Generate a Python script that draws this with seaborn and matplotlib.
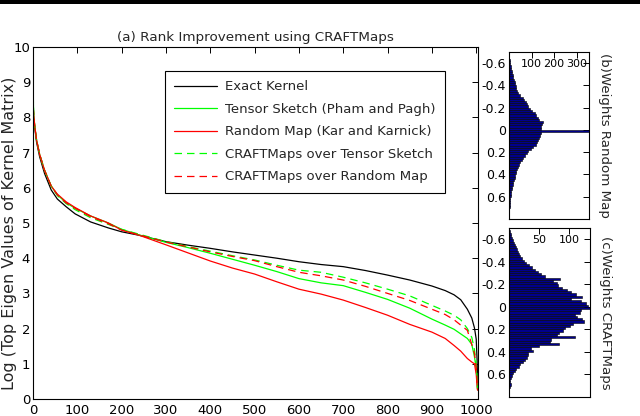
"""
plot.py
Rank improvement using CRAFTMaps: eigen spectrum curves plus two weight histograms.
Run: python plot.py
"""
import numpy as np
import pandas as pd
import matplotlib
matplotlib.use('Agg')
import matplotlib.pyplot as plt
from matplotlib.patches import Rectangle
import seaborn as sns

# ── eigen spectrum samples (rank index -> log eigenvalue) ──
rank_idx = [0, 1, 2, 4, 8, 15, 26, 41, 55, 75, 95, 130, 170, 200, 240, 300, 350,
            400, 450, 500, 550, 600, 650, 700, 750, 800, 850, 900, 930, 950, 965,
            980, 990, 996, 1000, 1002, 1003]

exact_kernel = [8.1, 8.05, 7.9, 7.7, 7.3, 6.88, 6.41, 5.94, 5.68, 5.46, 5.26, 5.03,
                4.86, 4.75, 4.65, 4.47, 4.37, 4.28, 4.18, 4.09, 4.0, 3.9, 3.82,
                3.76, 3.65, 3.52, 3.38, 3.21, 3.08, 2.96, 2.82, 2.55, 2.3, 2.02,
                1.7, 1.1, 0.55]
tensor_sketch = [9.7, 8.3, 8.0, 7.75, 7.36, 6.95, 6.5, 6.05, 5.8, 5.57, 5.42, 5.2,
                 5.0, 4.82, 4.66, 4.45, 4.3, 4.14, 3.97, 3.8, 3.62, 3.42, 3.3,
                 3.22, 3.03, 2.83, 2.58, 2.27, 2.1, 1.98, 1.85, 1.72, 1.55, 1.2,
                 0.85, 0.5, 0.26]
random_map = [8.3, 8.2, 8.0, 7.75, 7.36, 6.95, 6.5, 6.05, 5.82, 5.6, 5.44, 5.2,
              5.0, 4.8, 4.65, 4.38, 4.15, 3.92, 3.72, 3.55, 3.33, 3.12, 2.98,
              2.81, 2.6, 2.38, 2.12, 1.9, 1.72, 1.52, 1.36, 1.15, 1.05, 1.0,
              0.7, 0.35, 0.25]
craft_tensor = [9.7, 8.3, 8.0, 7.75, 7.36, 6.95, 6.5, 6.05, 5.78, 5.55, 5.38, 5.15,
                4.96, 4.82, 4.68, 4.47, 4.33, 4.2, 4.07, 3.95, 3.8, 3.66, 3.6,
                3.46, 3.3, 3.12, 2.93, 2.66, 2.5, 2.38, 2.25, 2.0, 1.75, 1.4,
                1.0, 0.6, 0.3]
craft_random = [8.3, 8.2, 8.0, 7.75, 7.36, 6.95, 6.5, 6.05, 5.8, 5.57, 5.42, 5.18,
                4.98, 4.8, 4.66, 4.46, 4.32, 4.18, 4.05, 3.93, 3.76, 3.6, 3.5,
                3.38, 3.2, 3.0, 2.8, 2.55, 2.4, 2.25, 2.1, 1.95, 1.55, 1.3,
                0.9, 0.5, 0.3]

# ── weight histograms: bins of width 0.02 from -0.70 to 0.78 ──
BIN_LO, BIN_HI, N_BINS = -0.70, 0.78, 74

weights_random_map = [0, 1, 2, 3, 4, 6, 8, 10, 12, 14, 17, 19, 22, 25, 27, 30, 33,
                      36, 42, 50, 63, 68, 75, 80, 86, 93, 104, 115, 120, 128, 132,
                      150, 145, 141, 140,
                      380, 140, 138, 134, 130, 126, 118, 108, 98, 86, 78, 70, 63,
                      56, 49, 44, 40, 35, 32, 30, 27, 25, 22, 19, 17, 14, 12, 10,
                      9, 8, 6, 5, 4, 3, 3, 2, 1, 1, 0]
weights_craftmaps = [0, 1, 3, 4, 5, 7, 8, 10, 12, 14, 15, 17, 19, 22, 25, 29, 33,
                     38, 44, 48, 54, 60, 85, 74, 80, 82, 88, 96, 104, 112, 121,
                     104, 120, 128, 131,
                     140, 120, 118, 110, 114, 122, 125, 106, 102, 94, 90, 84, 80,
                     110, 70, 68, 84, 50, 36, 40, 32, 32, 30, 27, 24, 18, 16, 12,
                     10, 7, 5, 4, 2, 2, 3, 1, 0, 0, 0]

y_ticks_main = list(range(0, 11))
x_ticks_main = list(range(0, 1001, 100))
w_ticks = [-0.6, -0.4, -0.2, 0, 0.2, 0.4, 0.6]
w_ticklabels = ['-0.6', '-0.4', '-0.2', '0', '0.2', '0.4', '0.6']

GREEN = '#00ff00'
RED = '#ff0000'
BAR_FACE = '#00008c'

sns.set_style('white')
plt.rcParams['font.family'] = ['DejaVu Sans']
plt.rcParams['font.size'] = 9.5


def style_box(ax):
    for s in ax.spines.values():
        s.set_visible(True)
        s.set_color('black')
        s.set_linewidth(0.8)
    ax.tick_params(which='both', direction='in', length=4, width=0.7,
                   colors='black', top=True, right=True, labelsize=9.5)


def draw_hist(ax, counts, xmax, xticks, ylabel):
    edges = np.linspace(BIN_LO, BIN_HI, N_BINS + 1)
    centers = (edges[:-1] + edges[1:]) / 2
    df = pd.DataFrame({'weight': centers, 'count': np.asarray(counts, dtype=float)})
    sns.histplot(data=df, y='weight', weights='count', bins=list(edges), ax=ax,
                 color=BAR_FACE, edgecolor='black', linewidth=0.4, alpha=1.0)
    ax.set_ylim(0.8, -0.7)
    ax.set_xlim(0, xmax)
    style_box(ax)
    ax.set_yticks(w_ticks)
    ax.set_yticklabels(w_ticklabels)
    ax.tick_params(axis='y', labelsize=9, pad=2)
    ax.set_xticks(xticks)
    ax.tick_params(axis='x', labeltop=True, labelbottom=False, pad=-12,
                   labelsize=8)
    ax.set_xlabel('')
    ax.yaxis.set_label_position('right')
    ax.set_ylabel(ylabel, rotation=270, labelpad=16, fontsize=9.6)


def main():
    fig = plt.figure(figsize=(6.4, 4.16), dpi=100)
    # dark band across the very top of the scanned figure
    fig.patches.append(Rectangle((0, 1 - 4 / 416), 1, 4 / 416, transform=fig.transFigure,
                                 facecolor='black', edgecolor='none', zorder=5))

    # Main spectrum panel
    ax = fig.add_axes([33 / 640, 17 / 416, 445 / 640, 352 / 416])
    series = [
        ('Exact Kernel', exact_kernel, 'black', '-'),
        ('Tensor Sketch (Pham and Pagh)', tensor_sketch, GREEN, '-'),
        ('Random Map (Kar and Karnick)', random_map, RED, '-'),
        ('CRAFTMaps over Tensor Sketch', craft_tensor, GREEN, '--'),
        ('CRAFTMaps over Random Map', craft_random, RED, '--'),
    ]
    for name, vals, col, ls in series:
        df = pd.DataFrame({'rank': rank_idx, 'val': vals})
        line = sns.lineplot(data=df, x='rank', y='val', ax=ax, color=col,
                            linewidth=0.9, label=name, sort=False,
                            estimator=None)
        if ls == '--':
            line.lines[-1].set_dashes((6, 4))

    ax.set_xlim(0, 1004)
    ax.set_ylim(0, 10)
    ax.set_xticks(x_ticks_main)
    ax.set_yticks(y_ticks_main)
    style_box(ax)
    ax.tick_params(axis='y', pad=2)
    ax.set_xlabel('')
    ax.set_ylabel('Log (Top Eigen Values of Kernel Matrix)', fontsize=11.5)
    ax.yaxis.set_label_coords(-0.036, 0.47)
    ax.set_title('(a) Rank Improvement using CRAFTMaps', fontsize=9.7, pad=4)

    leg = ax.legend(loc='upper left', bbox_to_anchor=(0.281, 0.95),
                    fancybox=False, framealpha=1, edgecolor='black',
                    handlelength=3.3, handletextpad=0.6, labelspacing=0.72,
                    borderpad=0.7, fontsize=9.5)
    leg.get_frame().set_linewidth(0.8)

    # Weight histograms
    ax_b = fig.add_axes([509 / 640, 197 / 416, 80 / 640, 167 / 416])
    draw_hist(ax_b, weights_random_map, 355, [100, 200, 300],
              '(b)Weights Random Map')
    ax_c = fig.add_axes([509 / 640, 19 / 416, 81 / 640, 169 / 416])
    draw_hist(ax_c, weights_craftmaps, 135, [50, 100],
              '(c)Weights CRAFTMaps')

    fig.savefig('out.png', dpi=100)
    plt.close(fig)


if __name__ == '__main__':
    main()
